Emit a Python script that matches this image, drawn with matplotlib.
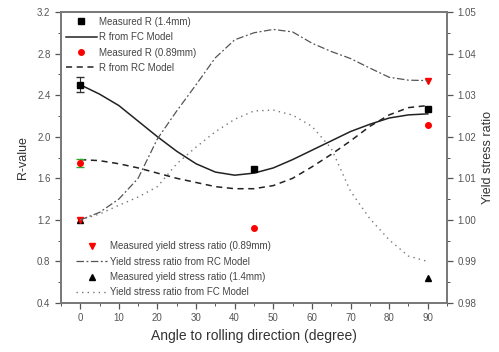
import numpy as np
from matplotlib import pyplot as plt
from matplotlib.ticker import MultipleLocator

plt.rcParams["font.family"] = ["Liberation Sans", "DejaVu Sans"]

# measured R-values
ang_meas = [0, 45, 90]
r_14 = [2.50, 1.69, 2.27]
r_089 = [1.75, 1.12, 2.11]
# error bars (only the 0 deg specimens have them)
ang_err = [0]
r_14_err = [0.07]
r_089_err = [0.04]

# measured yield stress ratios
ang_ys = [0, 90]
ys_089 = [1.000, 1.0335]
ys_14 = [1.000, 0.9860]

# model curves
ang_model = [0, 5, 10, 15, 20, 25, 30, 35, 40, 45, 50, 55, 60, 65, 70, 75, 80, 85, 90]
r_fc = [2.50, 2.41, 2.30, 2.15, 2.00, 1.86, 1.74, 1.66, 1.63, 1.65, 1.70, 1.78,
        1.87, 1.96, 2.05, 2.12, 2.18, 2.21, 2.22]
r_rc = [1.78, 1.77, 1.74, 1.70, 1.65, 1.60, 1.56, 1.52, 1.50, 1.50, 1.53, 1.60,
        1.71, 1.83, 1.96, 2.10, 2.21, 2.28, 2.30]
ys_rc = [1.000, 1.0018, 1.0050, 1.0100, 1.0195, 1.0262, 1.0325, 1.0390, 1.0433,
         1.0450, 1.0458, 1.0452, 1.0425, 1.0405, 1.0388, 1.0365, 1.0343, 1.0336, 1.0335]
ys_fc = [1.000, 1.0014, 1.0035, 1.0055, 1.0080, 1.0135, 1.0175, 1.0212, 1.0242,
         1.0262, 1.0264, 1.0252, 1.0225, 1.0172, 1.0069, 1.0003, 0.9952, 0.9913, 0.9900]

fig = plt.figure(figsize=(4.99, 3.52), dpi=100)
ax = fig.add_axes([0.122, 0.139, 0.774, 0.827])
ax2 = ax.twinx()

# R-value axis
ax.errorbar(ang_err, r_14[:1], yerr=r_14_err, fmt="none", ecolor="#333333",
            elinewidth=0.8, capsize=3, zorder=4)
ax.errorbar(ang_err, r_089[:1], yerr=r_089_err, fmt="none", ecolor="#33aa33",
            elinewidth=0.8, capsize=3, zorder=4)
p_r14, = ax.plot(ang_meas, r_14, "s", color="black", ms=4.5, ls="none", zorder=5)
p_fc, = ax.plot(ang_model, r_fc, "-", color="#222222", lw=1.1)
p_r089, = ax.plot(ang_meas, r_089, "o", color="red", ms=4, ls="none", zorder=5)
p_rc, = ax.plot(ang_model, r_rc, color="#222222", lw=1.1, dashes=(4, 3))

# yield stress ratio axis
p_y14, = ax2.plot(ang_ys, ys_14, "^", color="black", ms=4.5, ls="none")
p_y089, = ax2.plot(ang_ys, ys_089, "v", color="red", ms=4.5, ls="none")
p_yrc, = ax2.plot(ang_model, ys_rc, color="#555555", lw=0.9, dashes=(6, 2, 1.5, 2))
p_yfc, = ax2.plot(ang_model, ys_fc, color="#777777", lw=1.0, dashes=(1, 3))

ax.set_xlim(-5, 95)
ax.set_ylim(0.4, 3.2)
ax2.set_ylim(0.98, 1.05)

ax.xaxis.set_major_locator(MultipleLocator(10))
ax.xaxis.set_minor_locator(MultipleLocator(5))
ax.yaxis.set_major_locator(MultipleLocator(0.4))
ax.yaxis.set_minor_locator(MultipleLocator(0.2))
ax2.yaxis.set_major_locator(MultipleLocator(0.01))
ax2.yaxis.set_minor_locator(MultipleLocator(0.005))
ax.yaxis.set_major_formatter(plt.FormatStrFormatter("%.1f"))
ax2.yaxis.set_major_formatter(plt.FormatStrFormatter("%.2f"))

for a in (ax, ax2):
    a.tick_params(which="both", direction="out", labelsize=7, colors="#555555",
                  labelcolor="#555555")
    a.tick_params(which="major", length=4, width=0.9)
    a.tick_params(which="minor", length=2, width=0.7)
    for s in a.spines.values():
        s.set_color("#777777")
        s.set_linewidth(1.2)

ax.set_xlabel("Angle to rolling direction (degree)", fontsize=10, color="#333333", labelpad=4)
ax.set_ylabel("R-value", fontsize=9, color="#333333", labelpad=6)
ax2.set_ylabel("Yield stress ratio", fontsize=9, color="#333333", labelpad=4)

# both legends live on the top axes so nothing is drawn over them
leg_kw = dict(frameon=False, fontsize=7, handlelength=3.2, labelspacing=0.55,
              borderaxespad=0.3, borderpad=0.2, labelcolor="#444444")
leg1 = ax2.legend([p_r14, p_fc, p_r089, p_rc],
                  ["Measured R (1.4mm)", "R from FC Model",
                   "Measured R (0.89mm)", "R from RC Model"],
                  loc="upper left", bbox_to_anchor=(0.0, 1.0), handletextpad=0.2, **leg_kw)
ax2.add_artist(leg1)

ax2.legend([p_y089, p_yrc, p_y14, p_yfc],
           ["Measured yield stress ratio (0.89mm)", "Yield stress ratio from RC Model",
            "Measured yield stress ratio (1.4mm)", "Yield stress ratio from FC Model"],
           loc="lower left", bbox_to_anchor=(0.027, 0.003), handletextpad=0.3, **leg_kw)

plt.savefig("out.png", dpi=100)
